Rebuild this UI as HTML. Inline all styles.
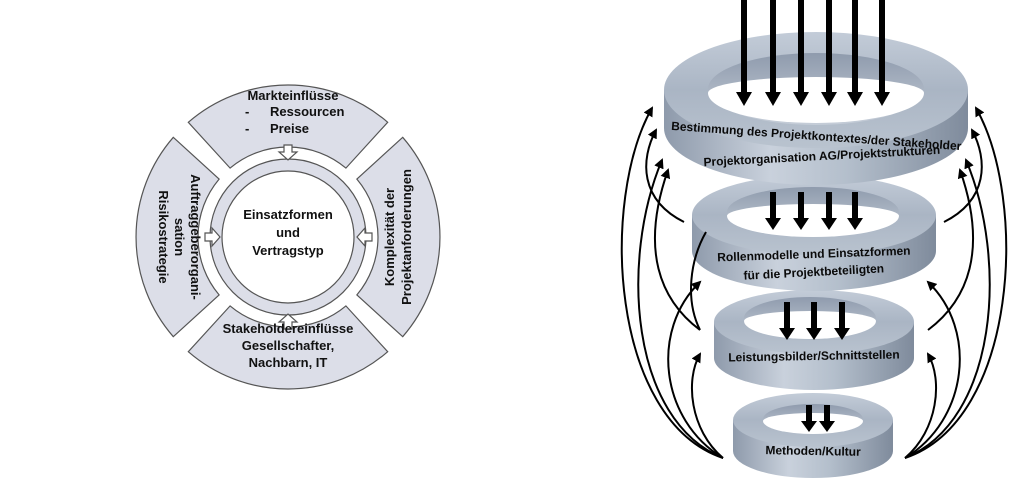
<!DOCTYPE html>
<html><head><meta charset="utf-8"><style>
html,body{margin:0;padding:0;background:#fff;width:1024px;height:485px;overflow:hidden}
svg{display:block}
.t{font-family:"Liberation Sans",sans-serif;font-weight:bold;fill:#111}
.r{font-family:"Liberation Sans",sans-serif;font-weight:bold;fill:#0a0a0a;font-size:12px}
</style></head><body>
<svg width="1024" height="485" viewBox="0 0 1024 485" xmlns="http://www.w3.org/2000/svg">
<defs>
<linearGradient id="band" x1="0" x2="1" y1="0" y2="0">
<stop offset="0" stop-color="#8e9aab"/><stop offset="0.35" stop-color="#c9d1dc"/><stop offset="0.6" stop-color="#b4bfcc"/><stop offset="1" stop-color="#7f8b9c"/></linearGradient>
<linearGradient id="top" x1="0" x2="0" y1="0" y2="1">
<stop offset="0" stop-color="#c3ccd8"/><stop offset="0.5" stop-color="#aab5c4"/><stop offset="1" stop-color="#b9c3cf"/></linearGradient>
<linearGradient id="wall" x1="0" x2="0" y1="0" y2="1">
<stop offset="0" stop-color="#8f9bad"/><stop offset="1" stop-color="#c5cdd8"/></linearGradient>
<marker id="ah" viewBox="0 0 10 10" refX="8" refY="5" markerWidth="5" markerHeight="5" orient="auto"><path d="M0,0 L10,5 L0,10 z" fill="#000"/></marker>
</defs>

<g transform="translate(0,-3)">
<g fill="#dcdee8" stroke="#555" stroke-width="1.2">
<path d="M188.3,125.3 A152,152 0 0 1 387.7,125.3 L345.9,171.1 A90,90 0 0 0 230.1,171.1 Z"/>
<path d="M402.7,140.3 A152,152 0 0 1 402.7,339.7 L356.9,297.9 A90,90 0 0 0 356.9,182.1 Z"/>
<path d="M387.7,354.7 A152,152 0 0 1 188.3,354.7 L230.1,308.9 A90,90 0 0 0 345.9,308.9 Z"/>
<path d="M173.3,339.7 A152,152 0 0 1 173.3,140.3 L219.1,182.1 A90,90 0 0 0 219.1,297.9 Z"/>
</g>
<circle cx="288" cy="240" r="72" fill="none" stroke="#dcdee8" stroke-width="12"/>
<circle cx="288" cy="240" r="78" fill="none" stroke="#555" stroke-width="1.2"/>
<circle cx="288" cy="240" r="66" fill="#fff" stroke="#555" stroke-width="1.2"/>
<g fill="#fff" stroke="#555" stroke-width="1.2">
<path d="M284,148 h8 v7 h5 l-9,8 l-9,-8 h5 z"/>
<path d="M284,332 h8 v-7 h5 l-9,-8 l-9,8 h5 z"/>
<path d="M205,236 v8 h7 v5 l8,-9 l-8,-9 v5 z"/>
<path d="M372,236 v8 h-7 v5 l-8,-9 l8,-9 v5 z"/>
</g>
<g class="t" font-size="13">
<text x="293" y="103" text-anchor="middle">Markteinflüsse</text>
<text x="245" y="119">-</text><text x="270" y="119">Ressourcen</text>
<text x="245" y="136">-</text><text x="270" y="136">Preise</text>
<text x="288" y="222" text-anchor="middle">Einsatzformen</text>
<text x="288" y="240" text-anchor="middle">und</text>
<text x="288" y="258" text-anchor="middle">Vertragstyp</text>
<text x="288" y="336" text-anchor="middle">Stakeholdereinflüsse</text>
<text x="288" y="353" text-anchor="middle">Gesellschafter,</text>
<text x="288" y="370" text-anchor="middle">Nachbarn, IT</text>
<text transform="translate(191,240) rotate(90)" text-anchor="middle">Auftraggeberorgani-</text>
<text transform="translate(175,240) rotate(90)" text-anchor="middle">sation</text>
<text transform="translate(159,240) rotate(90)" text-anchor="middle">Risikostrategie</text>
<text transform="translate(394,240) rotate(-90)" text-anchor="middle">Komplexität der</text>
<text transform="translate(411,240) rotate(-90)" text-anchor="middle">Projektanforderungen</text>
</g>
</g>

<g>
<path d="M733,420 v31 A80,27 0 0 0 893,451 v-31 Z" fill="url(#band)"/>
<ellipse cx="813" cy="420" rx="80" ry="27" fill="url(#top)"/>
<ellipse cx="813" cy="419" rx="50" ry="15" fill="url(#wall)"/>
<path d="M763,421 A50,13 0 0 0 863,421 A50,8 0 0 0 763,421 Z" fill="#fff"/>
</g>
<g>
<path d="M714,322 v36 A100,32 0 0 0 914,358 v-36 Z" fill="url(#band)"/>
<ellipse cx="814" cy="322" rx="100" ry="32" fill="url(#top)"/>
<ellipse cx="810" cy="318" rx="66" ry="21" fill="url(#wall)"/>
<path d="M744,321 A66,18 0 0 0 876,321 A66,10 0 0 0 744,321 Z" fill="#fff"/>
</g>
<g>
<path d="M692,215 v36 A122,40 0 0 0 936,251 v-36 Z" fill="url(#band)"/>
<ellipse cx="814" cy="215" rx="122" ry="40" fill="url(#top)"/>
<ellipse cx="813" cy="212" rx="86" ry="25" fill="url(#wall)"/>
<path d="M727,216 A86,21 0 0 0 899,216 A86,12 0 0 0 727,216 Z" fill="#fff"/>
</g>
<g>
<path d="M664,90 v38 A152,57 0 0 0 968,128 v-38 Z" fill="url(#band)"/>
<ellipse cx="816" cy="90" rx="152" ry="58" fill="url(#top)"/>
<ellipse cx="816" cy="89" rx="108" ry="36" fill="url(#wall)"/>
<path d="M708,93 A108,30 0 0 0 924,93 A108,16 0 0 0 708,93 Z" fill="#fff"/>
</g>

<g fill="#000">
<path d="M741,0 h6 v92 h5 l-8,14 l-8,-14 h5 z"/>
<path d="M770,0 h6 v92 h5 l-8,14 l-8,-14 h5 z"/>
<path d="M798,0 h6 v92 h5 l-8,14 l-8,-14 h5 z"/>
<path d="M826,0 h6 v92 h5 l-8,14 l-8,-14 h5 z"/>
<path d="M852,0 h6 v92 h5 l-8,14 l-8,-14 h5 z"/>
<path d="M879,0 h6 v92 h5 l-8,14 l-8,-14 h5 z"/>
<path d="M770,192 h6 v26 h5 l-8,12 l-8,-12 h5 z"/>
<path d="M798,192 h6 v26 h5 l-8,12 l-8,-12 h5 z"/>
<path d="M826,192 h6 v26 h5 l-8,12 l-8,-12 h5 z"/>
<path d="M852,192 h6 v26 h5 l-8,12 l-8,-12 h5 z"/>
<path d="M784,302 h6 v26 h5 l-8,12 l-8,-12 h5 z"/>
<path d="M811,302 h6 v26 h5 l-8,12 l-8,-12 h5 z"/>
<path d="M839,302 h6 v26 h5 l-8,12 l-8,-12 h5 z"/>
<path d="M806,405 h6 v16 h5 l-8,11 l-8,-11 h5 z"/>
<path d="M824,405 h6 v16 h5 l-8,11 l-8,-11 h5 z"/>
</g>

<text class="r" transform="translate(816,140) rotate(4)" text-anchor="middle" font-size="11.5">Bestimmung des Projektkontextes/der Stakeholder</text>
<text class="r" transform="translate(822,160) rotate(-3)" text-anchor="middle" font-size="11.5">Projektorganisation AG/Projektstrukturen</text>
<text class="r" transform="translate(814,258) rotate(-2)" text-anchor="middle">Rollenmodelle und Einsatzformen</text>
<text class="r" transform="translate(814,276) rotate(-3)" text-anchor="middle">für die Projektbeteiligten</text>
<text class="r" transform="translate(814,360) rotate(-1)" text-anchor="middle">Leistungsbilder/Schnittstellen</text>
<text class="r" transform="translate(813,455) rotate(1)" text-anchor="middle">Methoden/Kultur</text>

<g fill="none" stroke="#000" stroke-width="2" marker-end="url(#ah)">
<path d="M723,458 C610,420 600,200 652,108"/>
<path d="M723,458 C630,420 620,260 662,160"/>
<path d="M723,458 C660,420 650,330 700,282"/>
<path d="M723,458 C690,430 685,380 700,354"/>
<path d="M684,222 C640,200 640,160 656,130"/>
<path d="M700,330 C660,300 640,250 668,170"/>
<path d="M700,330 C685,300 690,260 706,232" marker-end="none"/>
<path d="M905,458 C1018,420 1028,200 976,108"/>
<path d="M905,458 C998,420 1008,260 966,160"/>
<path d="M905,458 C968,420 978,330 928,282"/>
<path d="M905,458 C938,430 943,380 928,354"/>
<path d="M944,222 C988,200 988,160 972,130"/>
<path d="M928,330 C968,300 988,250 960,170"/>
</g>
</svg>
</body></html>
